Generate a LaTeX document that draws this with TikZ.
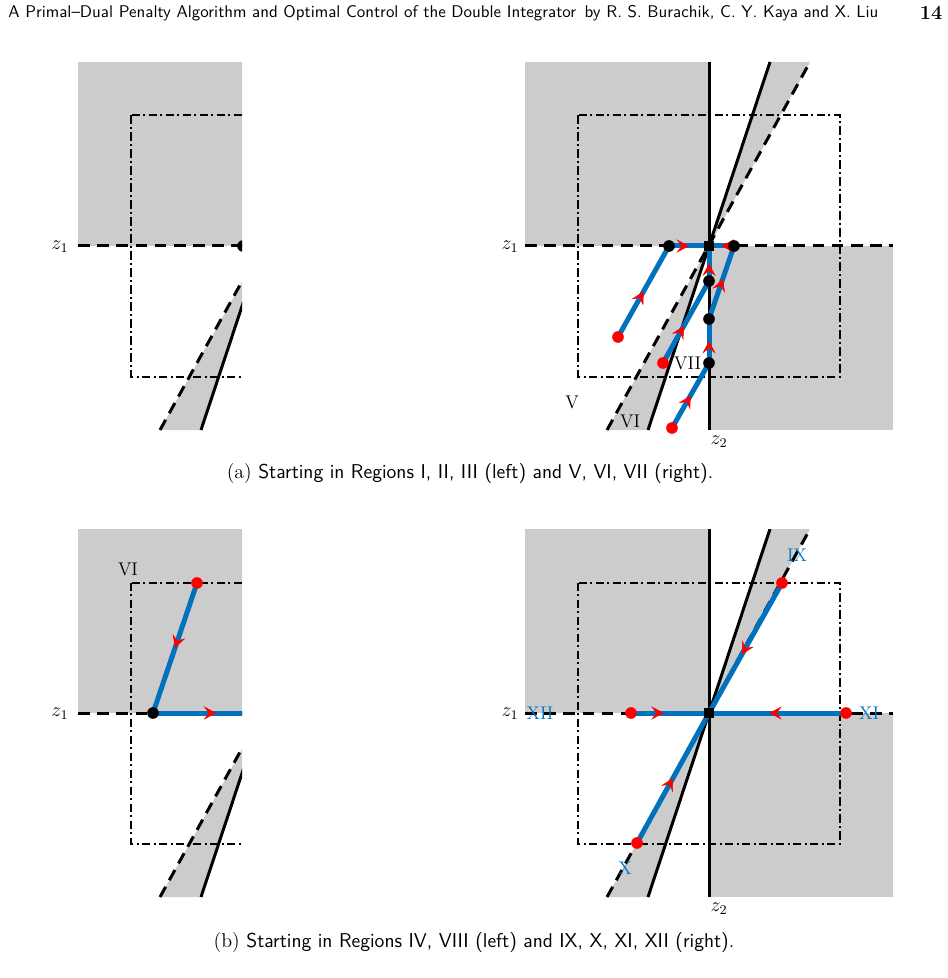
\documentclass[tikz,border=0pt]{standalone}
\usetikzlibrary{arrows.meta,decorations.markings}
\definecolor{trajblue}{RGB}{0,114,189}
\definecolor{regiongray}{RGB}{204,204,204}

\begin{document}
\begin{tikzpicture}[x=0.6pt,y=-0.6pt,
  axis/.style={line width=1.8pt},
  dashaxis/.style={line width=1.8pt,dash pattern=on 7pt off 4.5pt},
  boxline/.style={line width=1.2pt,dash pattern=on 5pt off 2pt on 1.2pt off 2pt},
  traj/.style={draw=trajblue,line width=3pt,line cap=round,postaction={decorate},
    decoration={markings,mark=at position #1 with {\arrow[red,line width=0.3pt]{Stealth[length=7.5pt,width=8pt,inset=3pt]}}}},
  traj/.default=0.5,
  reddot/.style={circle,fill=red,inner sep=0pt,minimum size=7pt},
  blackdot/.style={circle,fill=black,inner sep=0pt,minimum size=7pt},
  origin/.style={rectangle,fill=black,inner sep=0pt,minimum size=6pt},
  zlabel/.style={inner sep=1pt,font=\large},
  region/.style={inner sep=1pt,font=\fontsize{11}{13}\selectfont},
  bluelabel/.style={region,text=trajblue}]
\useasboundingbox (0,0) rectangle (947,978);

% header
\node[anchor=west,inner sep=0pt,font=\sffamily] (head) at (8,13) {\resizebox{522pt}{!}{A Primal--Dual Penalty Algorithm and Optimal Control of the Double Integrator\enspace by R. S. Burachik, C. Y. Kaya and X. Liu}};
\node[font=\large\bfseries] (page) at (931,13) {14};

% the four panels: origin x, origin y, right clip edge
\foreach \ox/\oy/\cx in {262/246/242,709/246/893,262/713/242,709/713/893}{
  \begin{scope}
    \clip (\ox-184,\oy-184) rectangle (\cx,\oy+184);
    \begin{scope}[shift={(\ox,\oy)}]
      \fill[regiongray] (-184,-184) rectangle (0,0);
      \fill[regiongray] (0,0) rectangle (184,184);
      \fill[regiongray] (0,0) -- (61,-184) -- (101,-184) -- cycle;
      \fill[regiongray] (0,0) -- (-61,184) -- (-102,184) -- cycle;
      \draw[boxline] (-131,-130.5) rectangle (131,130.5);
      \draw[dashaxis] (-184,0) -- (184,0);
      \draw[axis] (0,-184) -- (0,184);
      \draw[axis] (-61,184) -- (61,-184);
      \draw[dashaxis] (-102,184) -- (101,-184);
    \end{scope}
  \end{scope}
}

% (a) left
\begin{scope}
  \clip (78,62) rectangle (242,430);
  \node[blackdot] (al0) at (243,246) {};
\end{scope}
\node[zlabel] (zal) at (60,247) {$z_1$};

% (a) right
\coordinate (oa) at (709,246);
\coordinate (s1) at (618,337);
\coordinate (k1) at (669,246);
\coordinate (s2) at (663,363);
\coordinate (k2) at (709,281);
\coordinate (s3) at (672,428);
\coordinate (k3) at (709,363);
\coordinate (k4) at (709,319);
\coordinate (k5) at (734,246);
\draw[traj] (s1) -- (k1);
\draw[traj] (k1) -- (oa);
\draw[traj=0.45] (s2) -- (k2);
\draw[traj] (k2) -- (oa);
\draw[traj] (s3) -- (k3);
\draw[traj] (k3) -- (k4);
\draw[traj=0.55] (k4) -- (k5);
\draw[traj] (k5) -- (oa);
\foreach \p in {s1,s2,s3} \node[reddot] (\p-dot) at (\p) {};
\foreach \p in {k1,k2,k3,k4,k5} \node[blackdot] (\p-dot) at (\p) {};
\node[origin] (oa-sq) at (oa) {};
\node[zlabel] (zar1) at (510,247) {$z_1$};
\node[zlabel] (zar2) at (719,442) {$z_2$};
\node[region] (rv) at (572,402) {V};
\node[region] (rvi) at (630,421) {VI};
\node[region,anchor=east] (rvii) at (703,363) {VII};
\node[font=\large] (capa) at (470,474) {(a) \textsf{Starting in Regions I, II, III (left) and V, VI, VII (right).}};

% (b) left
\coordinate (bl0) at (262,713);
\coordinate (t1) at (197,583);
\coordinate (m1) at (153,713);
\begin{scope}
  \clip (78,529) rectangle (242,897);
  \draw[traj] (t1) -- (m1);
  \draw[traj=0.58] (m1) -- (bl0);
\end{scope}
\node[reddot] (t1-dot) at (t1) {};
\node[blackdot] (m1-dot) at (m1) {};
\node[zlabel] (zbl) at (60,714) {$z_1$};
\node[region] (rvib) at (128,569) {VI};

% (b) right
\coordinate (ob) at (709,713);
\coordinate (u9) at (782,583);
\coordinate (u10) at (637,843);
\coordinate (u11) at (846,713);
\coordinate (u12) at (631,713);
\draw[traj=0.55] (u9) -- (ob);
\draw[traj] (u10) -- (ob);
\draw[traj=0.42] (u12) -- (ob);
\draw[traj=0.56] (u11) -- (ob);
\foreach \p in {u9,u10,u11,u12} \node[reddot] (\p-dot) at (\p) {};
\node[origin] (ob-sq) at (ob) {};
\node[zlabel] (zbr1) at (510,714) {$z_1$};
\node[zlabel] (zbr2) at (719,909) {$z_2$};
\node[bluelabel] (rix) at (797,555) {IX};
\node[bluelabel] (rx) at (625,868) {X};
\node[bluelabel] (rxii) at (540,713) {XII};
\node[bluelabel] (rxi) at (869,713) {XI};
\node[font=\large] (capb) at (474,942) {(b) \textsf{Starting in Regions IV, VIII (left) and IX, X, XI, XII (right).}};
\end{tikzpicture}
\end{document}
